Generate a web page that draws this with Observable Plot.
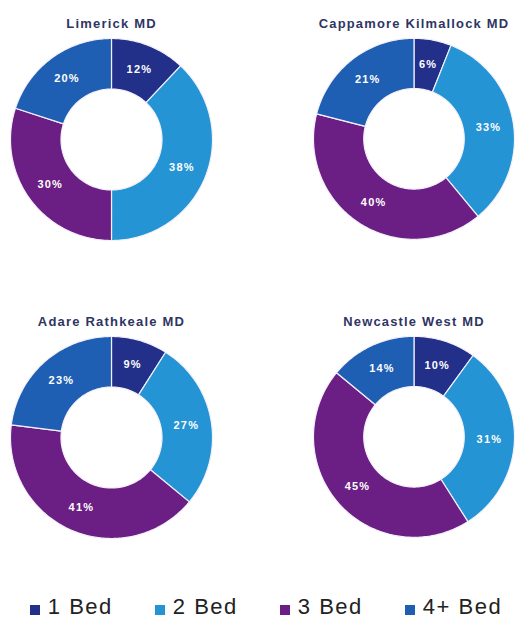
<!DOCTYPE html>
<html>
<head>
<meta charset="utf-8">
<script src="https://cdn.jsdelivr.net/npm/d3@7"></script>
<script src="https://cdn.jsdelivr.net/npm/@observablehq/plot@0.6"></script>
<style>
  html, body { margin: 0; padding: 0; background: #fff; }
  body { width: 516px; height: 619px; overflow: hidden; font-family: "Liberation Sans", Arial, sans-serif; }
  #wrap { position: relative; width: 516px; height: 619px; }
  .pane { position: absolute; }
  .pane svg { overflow: visible; }
  #legend { position: absolute; left: 8px; top: 594px; width: 516px; }
  .lg-swatches { display: flex; justify-content: center; align-items: center; margin: 0 !important; min-height: 0 !important;
    font-family: "Liberation Sans", Arial, sans-serif !important; font-size: 22px !important; color: #222; letter-spacing: 1.5px; }
  .lg-swatch { margin-right: 0 !important; margin-left: 0; }
  .lg-swatch + .lg-swatch { margin-left: 42px !important; }
  .lg-swatch svg { margin-right: 8px !important; margin-top: 6px; }
</style>
</head>
<body>
<div id="wrap"></div>
<script>
const districts = ["Limerick MD", "Cappamore Kilmallock MD", "Adare Rathkeale MD", "Newcastle West MD"];
const categories = ["1 Bed", "2 Bed", "3 Bed", "4+ Bed"];
const limerickShares = [12, 38, 30, 20];
const cappamoreShares = [6, 33, 40, 21];
const adareShares = [9, 27, 41, 23];
const newcastleShares = [10, 31, 45, 14];
const colors = ["#22308a", "#2494d4", "#6b1e83", "#1f5fb3"];

const series = [limerickShares, cappamoreShares, adareShares, newcastleShares];
const panePos = [[8, 0], [311, 0], [8, 298], [311, 298]];
const inner = 0.5;

function slices(values) {
  const total = d3.sum(values);
  let acc = 0;
  return values.map((v, i) => {
    const a0 = acc / total * 2 * Math.PI;
    acc += v;
    const a1 = acc / total * 2 * Math.PI;
    return {category: categories[i], value: v, a0, a1, mid: (a0 + a1) / 2};
  });
}

function outline(sl) {
  const pts = [];
  for (const s of sl) {
    const n = Math.max(4, Math.ceil((s.a1 - s.a0) / (Math.PI / 180)));
    for (let k = 0; k <= n; k++) {
      const a = s.a0 + (s.a1 - s.a0) * k / n;
      pts.push({category: s.category, x: Math.sin(a), y: Math.cos(a)});
    }
    for (let k = n; k >= 0; k--) {
      const a = s.a0 + (s.a1 - s.a0) * k / n;
      pts.push({category: s.category, x: inner * Math.sin(a), y: inner * Math.cos(a)});
    }
  }
  return pts;
}

const wrap = document.getElementById("wrap");
const labelR = (1 + inner) / 2;

districts.forEach((name, i) => {
  const sl = slices(series[i]);
  const chart = Plot.plot({
    width: 206, height: 242,
    marginLeft: 2, marginRight: 2, marginTop: 38, marginBottom: 2,
    x: {domain: [-1, 1], axis: null},
    y: {domain: [-1, 1], axis: null},
    color: {domain: categories, range: colors},
    style: {fontFamily: "'Liberation Sans', Arial, sans-serif", letterSpacing: "1.2px", background: "transparent", overflow: "visible"},
    marks: [
      Plot.line(outline(sl), {x: "x", y: "y", z: "category", fill: "category", stroke: "#f4f0fb", strokeWidth: 1.2, curve: "linear-closed"}),
      Plot.text(sl, {
        x: d => labelR * Math.sin(d.mid), y: d => labelR * Math.cos(d.mid),
        text: d => d.value + "%", fill: "white", fontWeight: "bold", fontSize: 11
      }),
      Plot.text([name], {frameAnchor: "top", dy: -20, text: d => d, fill: "#2e3563", fontWeight: "bold", fontSize: 13})
    ]
  });
  const div = document.createElement("div");
  div.className = "pane";
  div.style.left = panePos[i][0] + "px";
  div.style.top = panePos[i][1] + "px";
  div.appendChild(chart);
  wrap.appendChild(div);
});

const legendDiv = document.createElement("div");
legendDiv.id = "legend";
legendDiv.appendChild(Plot.legend({
  color: {domain: categories, range: colors},
  legend: "swatches", swatchSize: 10, className: "lg"
}));
wrap.appendChild(legendDiv);
</script>
</body>
</html>
